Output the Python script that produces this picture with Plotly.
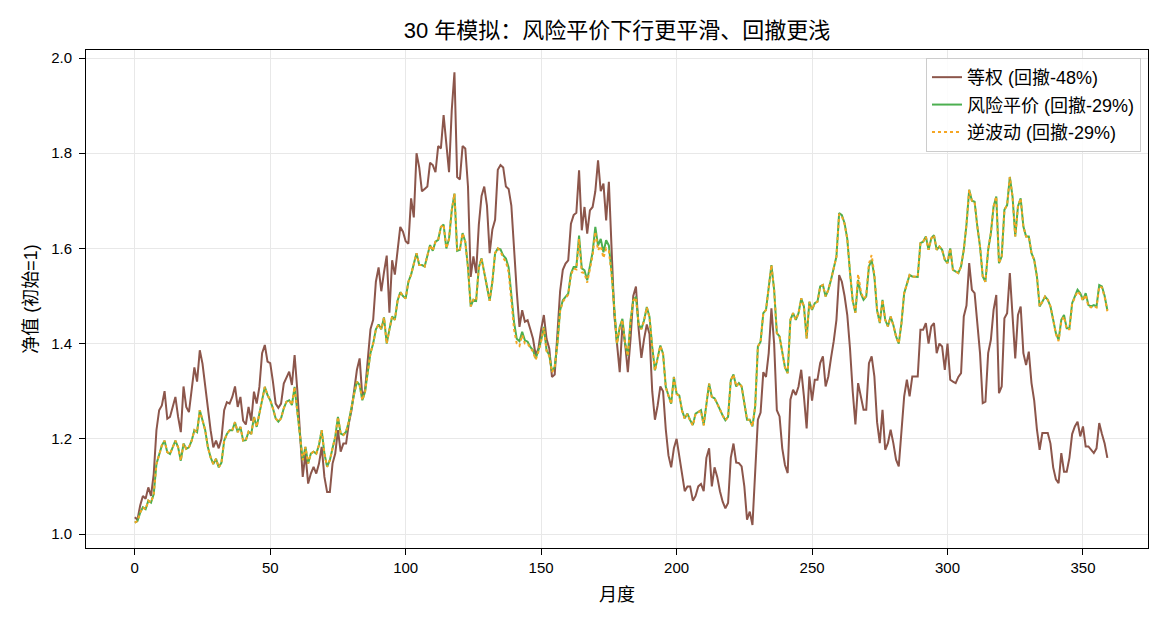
import plotly.graph_objects as go

months = list(range(360))

equal_weight = [
    1.035, 1.03, 1.06, 1.08, 1.074, 1.098, 1.08, 1.126, 1.218, 1.26,
    1.27, 1.30, 1.242, 1.246, 1.267, 1.288, 1.246, 1.214, 1.31, 1.267,
    1.256, 1.30, 1.35, 1.32, 1.386, 1.358, 1.31, 1.26, 1.218, 1.182,
    1.196, 1.18, 1.20, 1.26, 1.277, 1.274, 1.288, 1.31, 1.267, 1.288,
    1.238, 1.23, 1.267, 1.238, 1.299, 1.274, 1.309, 1.38, 1.397, 1.362,
    1.359, 1.32, 1.274, 1.265, 1.274, 1.316, 1.33, 1.341, 1.313, 1.376,
    1.302, 1.218, 1.12, 1.169, 1.106, 1.127, 1.141, 1.127, 1.148, 1.183,
    1.12, 1.088, 1.088, 1.148, 1.169, 1.218, 1.173, 1.19, 1.19, 1.232,
    1.26, 1.302, 1.345, 1.369, 1.288, 1.302, 1.37, 1.43, 1.45, 1.53,
    1.56, 1.51, 1.55, 1.585, 1.465, 1.575, 1.545, 1.60, 1.645, 1.635,
    1.615, 1.61, 1.705, 1.665, 1.80, 1.77, 1.72, 1.725, 1.73, 1.78,
    1.775, 1.76, 1.815, 1.81, 1.88, 1.82, 1.76, 1.89, 1.97, 1.75,
    1.745, 1.815, 1.81, 1.73, 1.54, 1.583, 1.548, 1.65, 1.71, 1.73,
    1.69, 1.59, 1.64, 1.66, 1.765, 1.775, 1.77, 1.73, 1.725, 1.69,
    1.59, 1.51, 1.435, 1.47, 1.446, 1.449, 1.43, 1.41, 1.375, 1.39,
    1.43, 1.46, 1.41, 1.39, 1.33, 1.335, 1.42, 1.51, 1.555, 1.568,
    1.575, 1.652, 1.67, 1.675, 1.764, 1.638, 1.687, 1.631, 1.68, 1.687,
    1.72, 1.785, 1.72, 1.736, 1.659, 1.74, 1.60, 1.46, 1.40, 1.34,
    1.44, 1.40, 1.34, 1.41, 1.50, 1.52, 1.43, 1.37, 1.41, 1.44,
    1.42, 1.30, 1.24, 1.27, 1.31, 1.30, 1.22, 1.165, 1.14, 1.18,
    1.20, 1.16, 1.13, 1.09, 1.10, 1.10, 1.07, 1.08, 1.10, 1.105,
    1.09, 1.16, 1.18, 1.10, 1.14, 1.12, 1.09, 1.068, 1.054, 1.065,
    1.16, 1.19, 1.15, 1.149, 1.142, 1.10, 1.03, 1.047, 1.019, 1.128,
    1.24, 1.255, 1.34, 1.33, 1.38, 1.474, 1.40, 1.26, 1.247, 1.18,
    1.145, 1.128, 1.282, 1.303, 1.292, 1.31, 1.345, 1.289, 1.222, 1.331,
    1.28, 1.324, 1.324, 1.359, 1.373, 1.31, 1.331, 1.37, 1.405, 1.45,
    1.544, 1.53, 1.50, 1.46, 1.39, 1.30, 1.23, 1.317, 1.289, 1.261,
    1.261, 1.359, 1.373, 1.331, 1.235, 1.191, 1.261, 1.177, 1.191, 1.219,
    1.191, 1.156, 1.142, 1.226, 1.289, 1.324, 1.289, 1.331, 1.331, 1.331,
    1.429, 1.429, 1.443, 1.40, 1.436, 1.443, 1.38, 1.40, 1.394, 1.345,
    1.40, 1.324, 1.32, 1.317, 1.33, 1.338, 1.457, 1.48, 1.569, 1.513,
    1.506, 1.44, 1.38, 1.275, 1.278, 1.38, 1.408, 1.471, 1.502, 1.296,
    1.31, 1.453, 1.464, 1.548, 1.45, 1.369, 1.46, 1.478, 1.38, 1.355,
    1.383, 1.317, 1.28, 1.22, 1.177, 1.212, 1.212, 1.212, 1.19, 1.14,
    1.115, 1.107, 1.17, 1.131, 1.131, 1.16, 1.21, 1.226, 1.236, 1.205,
    1.226, 1.184, 1.184, 1.177, 1.17, 1.18, 1.233, 1.21, 1.19, 1.16,
]

risk_parity = [
    1.024, 1.027, 1.045, 1.056, 1.052, 1.07, 1.066, 1.084, 1.147, 1.168,
    1.186, 1.196, 1.172, 1.168, 1.182, 1.196, 1.182, 1.154, 1.19, 1.179,
    1.182, 1.196, 1.218, 1.214, 1.26, 1.238, 1.218, 1.182, 1.161, 1.147,
    1.158, 1.14, 1.15, 1.196, 1.21, 1.218, 1.218, 1.235, 1.214, 1.225,
    1.196, 1.197, 1.215, 1.21, 1.246, 1.225, 1.253, 1.281, 1.309, 1.292,
    1.281, 1.264, 1.243, 1.236, 1.243, 1.264, 1.278, 1.281, 1.271, 1.309,
    1.26, 1.211, 1.155, 1.183, 1.148, 1.169, 1.173, 1.169, 1.187, 1.218,
    1.169, 1.141, 1.155, 1.18, 1.204, 1.246, 1.211, 1.208, 1.215, 1.236,
    1.267, 1.295, 1.32, 1.313, 1.281, 1.299, 1.34, 1.38, 1.40, 1.43,
    1.44, 1.43, 1.455, 1.40, 1.43, 1.457, 1.45, 1.49, 1.508, 1.50,
    1.495, 1.53, 1.545, 1.57, 1.59, 1.565, 1.565, 1.562, 1.583, 1.607,
    1.595, 1.614, 1.618, 1.645, 1.65, 1.60, 1.62, 1.68, 1.715, 1.595,
    1.597, 1.632, 1.614, 1.56, 1.478, 1.492, 1.49, 1.56, 1.579, 1.55,
    1.52, 1.49, 1.53, 1.59, 1.60, 1.598, 1.585, 1.579, 1.56, 1.50,
    1.445, 1.41, 1.405, 1.425, 1.407, 1.404, 1.393, 1.386, 1.369, 1.386,
    1.407, 1.435, 1.386, 1.376, 1.341, 1.351, 1.40, 1.47, 1.491, 1.498,
    1.505, 1.547, 1.561, 1.561, 1.627, 1.558, 1.554, 1.533, 1.564, 1.592,
    1.645, 1.606, 1.62, 1.592, 1.617, 1.606, 1.55, 1.47, 1.40, 1.435,
    1.452, 1.40, 1.375, 1.449, 1.491, 1.498, 1.44, 1.431, 1.449, 1.477,
    1.456, 1.393, 1.344, 1.37, 1.396, 1.379, 1.309, 1.291, 1.274, 1.33,
    1.295, 1.291, 1.26, 1.243, 1.253, 1.239, 1.229, 1.253, 1.256, 1.26,
    1.229, 1.274, 1.316, 1.288, 1.285, 1.274, 1.26, 1.249, 1.239, 1.246,
    1.323, 1.335, 1.31, 1.317, 1.31, 1.275, 1.24, 1.24, 1.226, 1.268,
    1.394, 1.404, 1.464, 1.471, 1.513, 1.565, 1.513, 1.422, 1.415, 1.38,
    1.35, 1.338, 1.45, 1.464, 1.45, 1.464, 1.495, 1.478, 1.411, 1.488,
    1.471, 1.485, 1.488, 1.52, 1.523, 1.499, 1.513, 1.534, 1.558, 1.583,
    1.674, 1.67, 1.653, 1.62, 1.55, 1.49, 1.465, 1.534, 1.505, 1.492,
    1.499, 1.562, 1.576, 1.541, 1.47, 1.443, 1.492, 1.45, 1.436, 1.457,
    1.439, 1.415, 1.40, 1.443, 1.506, 1.527, 1.544, 1.541, 1.541, 1.54,
    1.611, 1.614, 1.625, 1.597, 1.621, 1.628, 1.597, 1.604, 1.597, 1.576,
    1.569, 1.60, 1.555, 1.551, 1.548, 1.562, 1.597, 1.65, 1.723, 1.70,
    1.698, 1.646, 1.604, 1.541, 1.53, 1.597, 1.632, 1.688, 1.709, 1.569,
    1.583, 1.681, 1.691, 1.75, 1.709, 1.625, 1.688, 1.705, 1.646, 1.625,
    1.625, 1.59, 1.576, 1.541, 1.478, 1.488, 1.499, 1.492, 1.478, 1.45,
    1.422, 1.408, 1.45, 1.46, 1.432, 1.432, 1.485, 1.499, 1.513, 1.506,
    1.492, 1.506, 1.481, 1.478, 1.481, 1.478, 1.523, 1.52, 1.50, 1.47,
]

inverse_vol = [
    1.024, 1.027, 1.045, 1.056, 1.052, 1.07, 1.066, 1.084, 1.147, 1.168,
    1.186, 1.196, 1.172, 1.168, 1.182, 1.196, 1.182, 1.154, 1.19, 1.179,
    1.182, 1.196, 1.218, 1.214, 1.26, 1.238, 1.218, 1.182, 1.161, 1.147,
    1.158, 1.14, 1.15, 1.196, 1.21, 1.218, 1.218, 1.235, 1.214, 1.225,
    1.196, 1.197, 1.215, 1.21, 1.246, 1.225, 1.253, 1.281, 1.309, 1.292,
    1.281, 1.264, 1.243, 1.236, 1.243, 1.264, 1.278, 1.281, 1.271, 1.309,
    1.26, 1.211, 1.155, 1.183, 1.148, 1.169, 1.173, 1.169, 1.187, 1.218,
    1.169, 1.141, 1.155, 1.18, 1.204, 1.246, 1.211, 1.208, 1.215, 1.236,
    1.267, 1.295, 1.32, 1.313, 1.281, 1.299, 1.34, 1.38, 1.40, 1.43,
    1.44, 1.43, 1.455, 1.40, 1.43, 1.457, 1.45, 1.49, 1.508, 1.50,
    1.495, 1.53, 1.545, 1.57, 1.59, 1.565, 1.565, 1.562, 1.583, 1.607,
    1.595, 1.614, 1.618, 1.645, 1.65, 1.60, 1.62, 1.68, 1.715, 1.595,
    1.597, 1.632, 1.614, 1.56, 1.478, 1.492, 1.49, 1.56, 1.579, 1.55,
    1.52, 1.49, 1.53, 1.59, 1.60, 1.594, 1.58, 1.572, 1.55, 1.49,
    1.43, 1.40, 1.395, 1.418, 1.40, 1.40, 1.39, 1.383, 1.366, 1.383,
    1.405, 1.433, 1.384, 1.374, 1.34, 1.35, 1.40, 1.468, 1.488, 1.495,
    1.503, 1.544, 1.558, 1.556, 1.62, 1.55, 1.548, 1.528, 1.558, 1.585,
    1.635, 1.596, 1.605, 1.58, 1.60, 1.595, 1.545, 1.468, 1.40, 1.432,
    1.45, 1.40, 1.374, 1.447, 1.49, 1.497, 1.44, 1.43, 1.448, 1.476,
    1.455, 1.392, 1.343, 1.369, 1.395, 1.378, 1.308, 1.29, 1.273, 1.329,
    1.294, 1.29, 1.259, 1.242, 1.252, 1.238, 1.228, 1.252, 1.255, 1.259,
    1.228, 1.273, 1.316, 1.288, 1.285, 1.274, 1.26, 1.249, 1.239, 1.246,
    1.323, 1.335, 1.31, 1.317, 1.31, 1.275, 1.24, 1.24, 1.226, 1.268,
    1.394, 1.404, 1.464, 1.471, 1.513, 1.565, 1.513, 1.422, 1.415, 1.38,
    1.35, 1.338, 1.45, 1.464, 1.45, 1.464, 1.495, 1.478, 1.411, 1.488,
    1.471, 1.485, 1.488, 1.52, 1.523, 1.499, 1.513, 1.534, 1.558, 1.583,
    1.672, 1.668, 1.651, 1.62, 1.55, 1.49, 1.465, 1.546, 1.51, 1.494,
    1.50, 1.568, 1.586, 1.545, 1.47, 1.443, 1.492, 1.45, 1.436, 1.457,
    1.439, 1.415, 1.40, 1.443, 1.506, 1.527, 1.544, 1.541, 1.541, 1.54,
    1.611, 1.614, 1.625, 1.597, 1.621, 1.628, 1.597, 1.604, 1.597, 1.576,
    1.569, 1.60, 1.555, 1.551, 1.548, 1.562, 1.597, 1.65, 1.723, 1.70,
    1.698, 1.646, 1.604, 1.541, 1.53, 1.597, 1.632, 1.688, 1.709, 1.569,
    1.583, 1.681, 1.691, 1.75, 1.709, 1.625, 1.688, 1.705, 1.646, 1.625,
    1.625, 1.59, 1.576, 1.541, 1.478, 1.488, 1.499, 1.492, 1.478, 1.45,
    1.42, 1.405, 1.447, 1.457, 1.43, 1.43, 1.483, 1.497, 1.51, 1.503,
    1.49, 1.503, 1.478, 1.476, 1.479, 1.476, 1.52, 1.518, 1.498, 1.468,
]

series_names = ["等权 (回撤-48%)", "风险平价 (回撤-29%)", "逆波动 (回撤-29%)"]
x_ticks = [0, 50, 100, 150, 200, 250, 300, 350]
y_ticks = [1.0, 1.2, 1.4, 1.6, 1.8, 2.0]

FONT = "Liberation Sans, Arial, Noto Sans CJK SC, sans-serif"

fig = go.Figure()
fig.add_trace(go.Scatter(x=months, y=equal_weight, mode="lines", name=series_names[0],
                         legendgroup="a", line=dict(color="#8c564b", width=2)))
fig.add_trace(go.Scatter(x=months, y=risk_parity, mode="lines", name=series_names[1],
                         legendgroup="b", line=dict(color="#4caf50", width=2)))
fig.add_trace(go.Scatter(x=months, y=inverse_vol, mode="lines", name=series_names[2],
                         legendgroup="c", line=dict(color="#f5a623", width=2, dash="3px,3px")))

axis_common = dict(
    showline=True, linecolor="black", linewidth=1, mirror=True,
    ticks="outside", ticklen=6, tickcolor="black", tickwidth=1,
    showgrid=True, gridcolor="#e8e8e8", gridwidth=1, zeroline=False,
    tickfont=dict(family=FONT, size=15, color="black"),
)

fig.update_layout(
    width=1170, height=624,
    margin=dict(l=86, r=22, t=50, b=76),
    paper_bgcolor="white", plot_bgcolor="white",
    font=dict(family=FONT, color="black"),
    title=dict(text="30 年模拟：风险平价下行更平滑、回撤更浅",
               x=0.5, xref="paper", y=1 - 30 / 624, yref="container",
               xanchor="center", yanchor="middle",
               font=dict(family=FONT, size=22, color="black")),
    xaxis=dict(axis_common, range=[-18, 374], tickvals=x_ticks,
               title=dict(text="月度", font=dict(family=FONT, size=18), standoff=13)),
    yaxis=dict(axis_common, range=[0.9706, 2.0168], tickvals=y_ticks, tickformat=".1f",
               ticklabelstandoff=4,
               title=dict(text="净值 (初始=1)", font=dict(family=FONT, size=18), standoff=8)),
    legend=dict(x=0.9934, y=0.984, xanchor="right", yanchor="top",
                bgcolor="rgba(255,255,255,0.85)", bordercolor="#cccccc", borderwidth=1,
                font=dict(family=FONT, size=18, color="black"),
                tracegroupgap=1),
    showlegend=True,
)

fig.write_html("out.html")
